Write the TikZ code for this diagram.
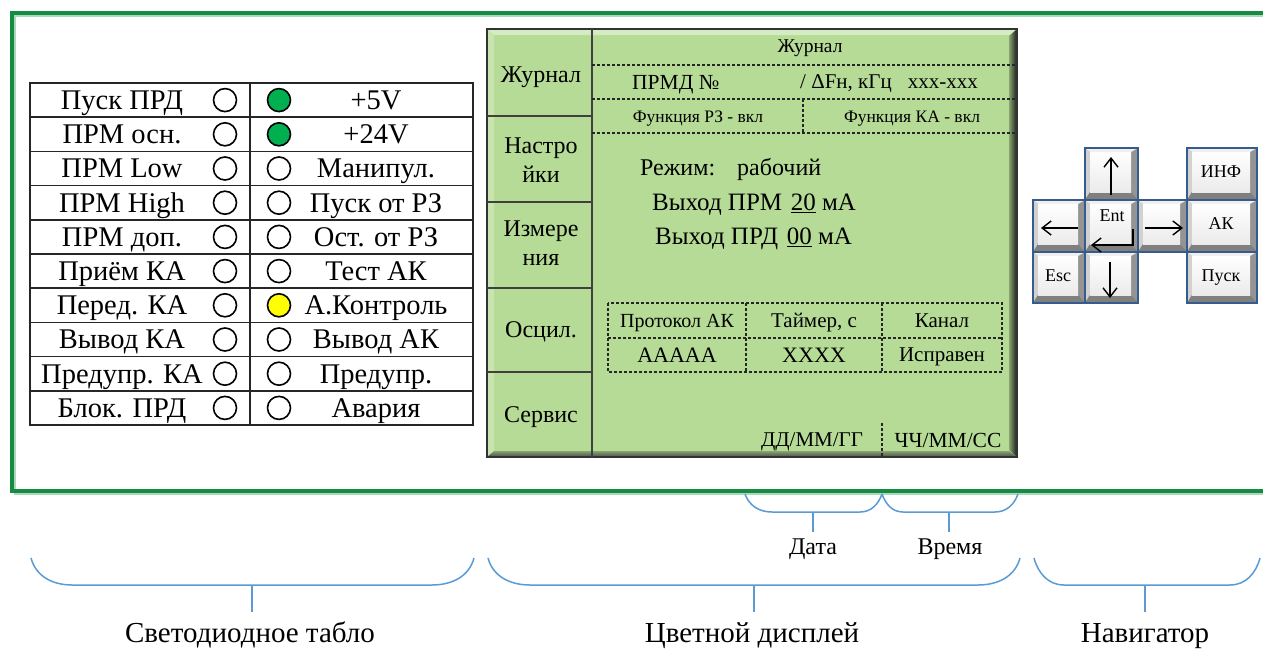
\documentclass[tikz,border=0pt]{standalone}
\usepackage{fontspec}
\setmainfont{Liberation Serif}
\usetikzlibrary{arrows.meta}
\definecolor{frameg}{RGB}{22,140,66}
\definecolor{ledg}{RGB}{0,176,80}
\definecolor{ledy}{RGB}{255,255,0}
\definecolor{lcd}{RGB}{181,219,150}
\definecolor{lcdhi}{RGB}{212,236,194}
\definecolor{bracec}{RGB}{91,155,213}
\definecolor{keyb}{RGB}{52,92,140}
\newcommand\fs[1]{\fontsize{#1}{#1}\selectfont}
\newcommand\navkey[5]{%
  \fill[black!42] (#2,#3) rectangle (#4,#5);
  \fill[black!6] (#2,#3) -- (#4,#3) -- ({#4-7},{#3+4}) -- ({#2+5},{#3+4}) -- cycle;
  \fill[black!18] (#2,#3) -- ({#2+5},{#3+4}) -- ({#2+5},{#5-8}) -- (#2,#5) -- cycle;
  \fill[black!50] (#2,#5) -- ({#2+5},{#5-8}) -- ({#4-7},{#5-8}) -- (#4,#5) -- cycle;
  \shade[top color=white, bottom color=black!8] ({#2+5},{#3+4}) rectangle ({#4-7},{#5-8});
  \draw[keyb, line width=1.3] (#2,#3) rectangle (#4,#5);
  \coordinate (#1) at ({(#2+#4)/2-1},{(#3+#5)/2-2});
}
\begin{document}
\begin{tikzpicture}[x=1pt,y=-1pt,
  tx/.style={inner sep=0pt, font=\fs{#1}, anchor=base, yshift={-0.33*#1pt}},
  txw/.style={inner sep=0pt, font=\fs{#1}, anchor=base west, yshift={-0.33*#1pt}},
  txe/.style={inner sep=0pt, font=\fs{#1}, anchor=base east, yshift={-0.33*#1pt}},
  led/.style={circle, draw, line width=1.6, minimum size=23pt, inner sep=0pt, fill=white},
  grid/.style={line width=1.6, black!85},
  menutxt/.style={inner sep=0pt, font=\fs{24}, align=center},
  dashln/.style={line width=1.6, dash pattern=on 3pt off 2pt, black!85},
  arr/.style={line width=1.4, -{Straight Barb[length=9pt,width=14pt,line width=1.4pt]}},
  brace/.style={bracec, line width=1.5}]
\path[use as bounding box] (0,0) rectangle (1263,648);
\fill[white] (0,0) rectangle (1263,648);
% green frame
\begin{scope}
\clip (0,0) rectangle (1263,648);
\draw[frameg!35, line width=2] (15,16) rectangle (1280,494);
\draw[frameg, line width=3.5] (12,13) rectangle (1278,491);
\end{scope}
% LED table
\foreach \l/\r/\c [count=\i from 0] in {Пуск ПРД/+5V/ledg, ПРМ осн./+24V/ledg, ПРМ Low/Манипул./white, ПРМ High/Пуск от РЗ/white, ПРМ доп./Ост. от РЗ/white, Приём КА/Тест АК/white, Перед. КА/А.Контроль/ledy, Вывод КА/Вывод АК/white, Предупр. КА/Предупр./white, Блок. ПРД/Авария/white}
{
  \pgfmathsetmacro\yy{83+34.2*(\i+0.5)}
  \node[tx=28.5] (L\i) at (122,\yy) {\l};
  \node[led] (la\i) at (225,\yy) {};
  \node[led, fill=\c] (lb\i) at (279,\yy) {};
  \node[tx=28.5] (R\i) at (376,\yy) {\r};
}
\draw[grid] (30,83) rectangle (473,425);
\foreach \i in {1,...,9}{ \draw[grid] (30,{83+34.2*\i}) -- (473,{83+34.2*\i}); }
\draw[grid] (250,83) -- (250,425);
% display
\fill[lcd] (487,29) rectangle (1017,457);
\fill[lcdhi] (487,29) -- (1017,29) -- (1010,35) -- (494,35) -- cycle;
\fill[lcdhi!60!lcd] (487,29) -- (494,35) -- (494,451) -- (487,457) -- cycle;
\shade[left color=lcd!75!black, right color=black!90] (1009,36) -- (1017,29) -- (1017,457) -- (1009,450) -- cycle;
\shade[top color=lcd!75!black, bottom color=black!70] (494,451) -- (1009,451) -- (1017,457) -- (487,457) -- cycle;
\draw[black!80, line width=1.5] (487,29) rectangle (1017,457);
\draw[black!75, line width=2] (592,29) -- (592,457);
\foreach \y in {116,202,288,372}{ \draw[black!75, line width=2] (487,\y) -- (592,\y); }
\node[tx=24] (m1) at (541,75) {Журнал};
\node[menutxt] (m2) at (541,160) {Настро\\[5pt]йки};
\node[menutxt] (m3) at (541,243) {Измере\\[5pt]ния};
\node[tx=24] (m4) at (541,330) {Осцил.};
\node[tx=24] (m5) at (541,415) {Сервис};
% display header
\node[tx=19.5] (hdr) at (810,46) {Журнал};
\draw[dashln] (592,65) -- (1017,65);
\node[txw=21.5] (prmd) at (632,82) {ПРМД №};
\node[txe=21] (dfn) at (978,82) {/ ΔFн, кГц\hspace{16pt}xxx-xxx};
\draw[dashln] (592,99) -- (1017,99);
\node[tx=17.5] (frz) at (698,117) {Функция РЗ - вкл};
\node[tx=17.5] (fka) at (912,117) {Функция КА - вкл};
\draw[dashln] (803,99) -- (803,133);
\draw[dashln] (592,133) -- (1017,133);
\node[txw=24] (mode) at (640,168) {Режим:\hspace{22pt}рабочий};
\node[txw=25] (oprm) at (652,202) {Выход ПРМ\hspace{0.35em}\underline{20}~мА};
\node[txw=25] (oprd) at (655,236) {Выход ПРД\hspace{0.35em}\underline{00}~мА};
% table
\draw[dashln] (608,303) rectangle (1002,372);
\draw[dashln] (608,338) -- (1002,338);
\draw[dashln] (746,303) -- (746,372);
\draw[dashln] (882,303) -- (882,372);
\node[tx=20] (t11) at (677,321) {Протокол АК};
\node[tx=21] (t12) at (814,321) {Таймер, с};
\node[tx=21] (t13) at (942,321) {Канал};
\node[tx=22] (t21) at (677,355) {ААААА};
\node[tx=22] (t22) at (814,355) {XXXX};
\node[tx=21] (t23) at (942,355) {Исправен};
\draw[dashln] (882,423) -- (882,457);
\node[tx=21] (date) at (812,440) {ДД/ММ/ГГ};
\node[tx=21.5] (time) at (948,440) {ЧЧ/ММ/СС};
% navigator
\navkey{kup}{1085}{148}{1138}{200}
\navkey{kleft}{1033}{200}{1085}{252}
\navkey{kent}{1085}{200}{1138}{252}
\navkey{kright}{1138}{200}{1187}{252}
\navkey{kesc}{1033}{252}{1085}{303}
\navkey{kdown}{1085}{252}{1138}{303}
\navkey{kinf}{1187}{148}{1257}{200}
\navkey{kak}{1187}{200}{1257}{252}
\navkey{kpusk}{1187}{252}{1257}{303}
\node[tx=18] (linf) at (kinf) {ИНФ};
\node[tx=18] (lak) at (kak) {АК};
\node[tx=18] (lpusk) at (kpusk) {Пуск};
\node[tx=18] (lesc) at (kesc) {Esc};
\node[tx=18] (lent) at (1112,216) {Ent};
\draw[arr] (1111,195) -- (1111,157);
\draw[arr] (1078,228) -- (1041,228);
\draw[arr] (1145,228) -- (1183,228);
\draw[arr] (1110,262) -- (1110,298);
\draw[arr] (1133,229) -- (1133,245) -- (1091,245);
% braces
\draw[brace] (31,558) to[out=-75,in=180] (72,585) -- (432,585) to[out=0,in=-105] (474,558);
\draw[brace] (488,558) to[out=-75,in=180] (530,585) -- (978,585) to[out=0,in=-105] (1020,558);
\draw[brace] (1034,558) to[out=-75,in=180] (1064,585) -- (1230,585) to[out=0,in=-105] (1260,558);
\draw[brace] (745,494) to[out=-70,in=180] (772,512) -- (860,512) to[out=0,in=-110] (882,494);
\draw[brace] (882,494) to[out=-70,in=180] (903,512) -- (995,512) to[out=0,in=-110] (1018,494);
\coordinate (b1) at (252,585);
\coordinate (b2) at (754,585);
\coordinate (b3) at (1145,585);
\coordinate (b4) at (813,512);
\coordinate (b5) at (949,512);
\node[tx=29] (n1) at (250,633) {Светодиодное табло};
\node[tx=29] (n2) at (752,633) {Цветной дисплей};
\node[tx=29] (n3) at (1145,633) {Навигатор};
\node[tx=24] (n4) at (813,547) {Дата};
\node[tx=24] (n5) at (950,547) {Время};
\draw[brace] (b1) -- (b1 |- 0,612);
\draw[brace] (b2) -- (b2 |- 0,612);
\draw[brace] (b3) -- (b3 |- 0,612);
\draw[brace] (b4) -- (b4 |- 0,532);
\draw[brace] (b5) -- (b5 |- 0,532);
\end{tikzpicture}
\end{document}
